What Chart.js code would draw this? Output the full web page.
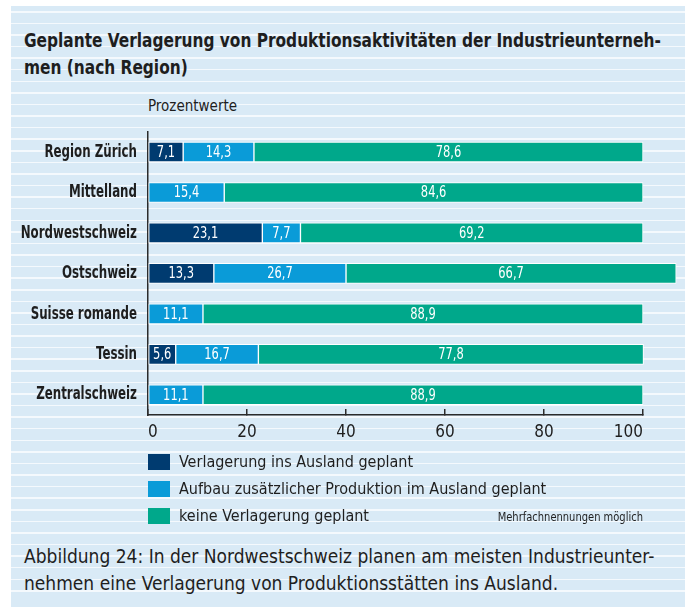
<!DOCTYPE html>
<html lang="de">
<head>
<meta charset="utf-8">
<title>Geplante Verlagerung von Produktionsaktivitäten</title>
<script src="https://cdn.jsdelivr.net/npm/chart.js@4.4.1/dist/chart.umd.min.js"></script>
<style>
  html, body { margin: 0; padding: 0; background: #fff; }
  body {
    width: 692px; height: 607px; position: relative; overflow: hidden;
    font-family: 'Liberation Sans Narrow', 'DejaVu Sans Condensed', 'Roboto Condensed', 'Liberation Sans', sans-serif;
    color: #1e1e1e;
  }
  #panel {
    position: absolute; left: 11px; top: 6px; width: 674px; height: 601px;
    background-color: #d9eaf6;
    background-image: repeating-linear-gradient(to bottom, transparent 0, transparent 10.08px, #f4f9fd 10.08px, #f4f9fd 11.58px);
    background-position: 0 -5px;
  }
  .txt { position: absolute; white-space: nowrap; }
  #title { left: 24px; top: 27px; font-size: 20px; font-weight: bold; line-height: 27px;
           transform: scaleX(0.855); transform-origin: 0 0; }
  #unit { left: 148px; top: 97px; font-size: 15px; }
  #chartbox { position: absolute; left: 11px; top: 110px; width: 674px; height: 340px; }
  #legend { position: absolute; left: 148px; top: 448px; }
  .leg { height: 27px; display: flex; align-items: center; font-size: 16px; }
  .leg span.box { display: inline-block; width: 22px; height: 16px; margin-right: 9px; }
  #note { right: 49px; top: 509px; font-size: 13px; transform: scaleX(0.85); transform-origin: 100% 0; }
  #caption { left: 24px; top: 543px; font-size: 19px; line-height: 27px; }
</style>
</head>
<body>
<div id="panel"></div>
<div class="txt" id="title">Geplante Verlagerung von Produktionsaktivitäten der Industrieunterneh-<br>men (nach Region)</div>
<div class="txt" id="unit">Prozentwerte</div>
<div id="chartbox"><canvas id="bar-chart" width="674" height="340"></canvas></div>
<div id="legend"></div>
<div class="txt" id="note">Mehrfachnennungen möglich</div>
<div class="txt" id="caption">Abbildung 24: In der Nordwestschweiz planen am meisten Industrieunter-<br>nehmen eine Verlagerung von Produktionsstätten ins Ausland.</div>

<script>
  // Daten
  const regions = ["Region Zürich", "Mittelland", "Nordwestschweiz", "Ostschweiz", "Suisse romande", "Tessin", "Zentralschweiz"];
  const verlagerung = [7.1, null, 23.1, 13.3, null, 5.6, null];
  const aufbau = [14.3, 15.4, 7.7, 26.7, 11.1, 16.7, 11.1];
  const keine = [78.6, 84.6, 69.2, 66.7, 88.9, 77.8, 88.9];
  const xTicks = [0, 20, 40, 60, 80, 100];

  const seriesNames = ["Verlagerung ins Ausland geplant", "Aufbau zusätzlicher Produktion im Ausland geplant", "keine Verlagerung geplant"];
  const colors = ["#003b70", "#0a9bd8", "#00a88b"];

  const FONT = "'Liberation Sans Narrow', 'DejaVu Sans Condensed', 'Roboto Condensed', 'Liberation Sans', sans-serif";

  // Werte in die Balken schreiben (schmal gestaucht wie im Original)
  const valueLabels = {
    id: "valueLabels",
    afterDatasetsDraw(chart) {
      const ctx = chart.ctx;
      chart.data.datasets.forEach((ds, i) => {
        chart.getDatasetMeta(i).data.forEach((bar, j) => {
          const v = ds.data[j];
          if (v == null) return;
          ctx.save();
          ctx.fillStyle = "#ffffff";
          ctx.font = "15px " + FONT;
          ctx.textAlign = "center";
          ctx.textBaseline = "middle";
          ctx.translate((bar.x + bar.base) / 2, bar.y + 1);
          ctx.scale(0.85, 1);
          ctx.fillText(v.toFixed(1).replace(".", ","), 0, 0);
          ctx.restore();
        });
      });
    },
  };

  const ctx = document.getElementById("bar-chart").getContext("2d");
  const myChart = new Chart(ctx, {
    type: "bar",
    data: {
      labels: regions,
      datasets: [verlagerung, aufbau, keine].map((d, i) => ({
        label: seriesNames[i],
        data: d,
        backgroundColor: colors[i],
        borderColor: "#ffffff",
        borderWidth: 1,
        borderSkipped: false,
        barThickness: 20,
        clip: false,
      })),
    },
    options: {
      indexAxis: "y",
      responsive: false,
      animation: false,
      layout: { padding: { top: 17.5, right: 42, bottom: 0, left: 0 } },
      plugins: { legend: { display: false }, tooltip: { enabled: false } },
      scales: {
        x: {
          stacked: true,
          min: 0,
          max: 100,
          afterBuildTicks: (scale) => { scale.ticks = xTicks.map((v) => ({ value: v })); },
          afterFit: (scale) => { scale.height = 35; },
          grid: { drawOnChartArea: false, drawTicks: true, tickLength: -6, color: "#2b2b2b", lineWidth: 1.5 },
          border: { display: true, color: "#2b2b2b", width: 1.5 },
          ticks: { align: "inner", padding: 13, color: "#1e1e1e", font: { family: FONT, size: 17 } },
        },
        y: {
          stacked: true,
          afterFit: (scale) => { scale.width = 137; },
          grid: { display: false, drawTicks: false },
          border: { display: true, color: "#2b2b2b", width: 1.5 },
          ticks: { padding: 11, color: "#1e1e1e", font: { family: FONT, size: 18, weight: "bold" } },
        },
      },
    },
    plugins: [valueLabels],
  });

  // Regionsnamen schmaler setzen (Originalschrift ist eine Condensed-Schrift)
  const yScale = myChart.scales.y;
  const drawYLabels = yScale.drawLabels;
  yScale._computeLabelArea = () => undefined; // kein Beschneiden der gestauchten Labels
  yScale.drawLabels = function (area) {
    const c = this.ctx;
    const xr = this.right - this.options.ticks.padding;
    c.save();
    c.translate(xr, 0);
    c.scale(0.73, 1);
    c.translate(-xr, 0);
    drawYLabels.call(this, area);
    c.restore();
  };
  myChart.draw();

  // Legende aus den Datensätzen
  const legend = document.getElementById("legend");
  myChart.data.datasets.forEach((ds) => {
    const row = document.createElement("div");
    row.className = "leg";
    const box = document.createElement("span");
    box.className = "box";
    box.style.background = ds.backgroundColor;
    row.appendChild(box);
    row.appendChild(document.createTextNode(ds.label));
    legend.appendChild(row);
  });
</script>
</body>
</html>
